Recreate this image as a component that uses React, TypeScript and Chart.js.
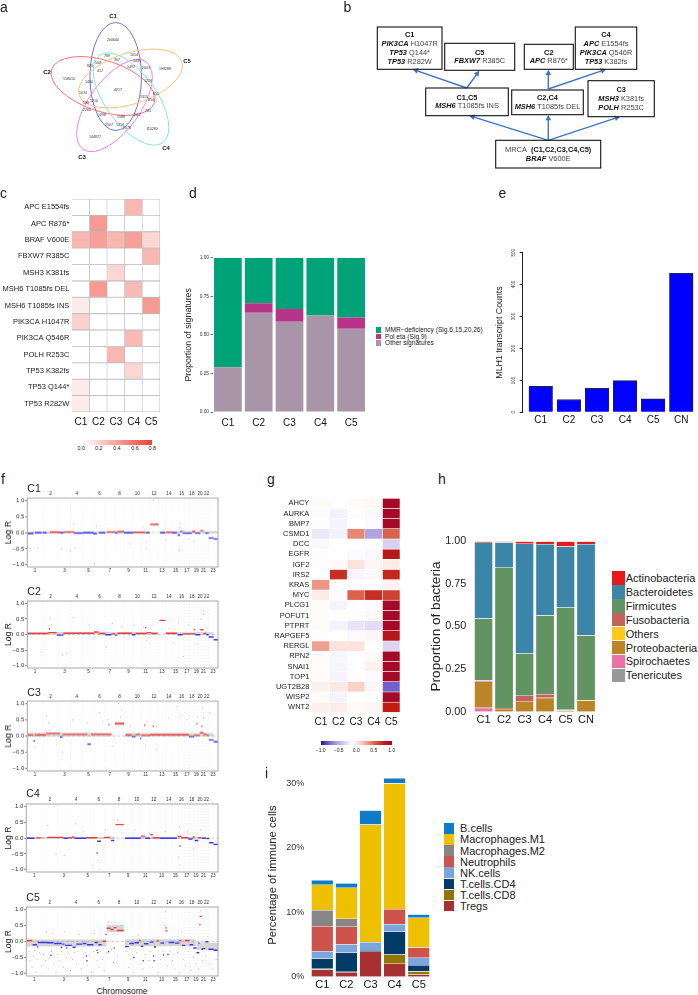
import React, { useEffect, useRef } from "react";
import { Chart, registerables } from "chart.js";

Chart.register(...registerables);

const FONT = '"Liberation Sans", Arial, sans-serif';
Chart.defaults.font.family = FONT;
Chart.defaults.color = "#222";

/* ---------- data ---------- */
const clusters = ["C1", "C2", "C3", "C4", "C5"];
const clustersCN = ["C1", "C2", "C3", "C4", "C5", "CN"];

// a: Venn
const vennNames = ["C1", "C2", "C3", "C4", "C5"];
const vennColors = ["#6f6ff2", "#ff6f7a", "#f280f2", "#84e8d8", "#f9c383"];
const vennCounts = ["200640", "158010", "144877", "110280", "198288", "789", "1054", "367", "1435", "508", "820", "417", "1492", "2603", "1400", "1220", "4217", "1070", "851", "1315", "1210", "854", "598", "2260", "781", "1298", "1588", "1112", "2507", "1318", "2078"];

// b: clonal tree text
const treeText = [
  { title: "C1", lines: [["PIK3CA", " H1047R"], ["TP53", " Q144*"], ["TP53", " R282W"]] },
  { title: "C5", lines: [["FBXW7", " R385C"]] },
  { title: "C2", lines: [["APC", " R876*"]] },
  { title: "C4", lines: [["APC", " E1554fs"], ["PIK3CA", " Q546R"], ["TP53", " K382fs"]] },
  { title: "C1,C5", lines: [["MSH6", " T1085fs INS"]] },
  { title: "C2,C4", lines: [["MSH6", " T1085fs DEL"]] },
  { title: "C3", lines: [["MSH3", " K381fs"], ["POLH", " R253C"]] },
  { title: "", lines: [["BRAF", " V600E"]] },
];

// c: mutation heat map
const mutations = ["APC E1554fs", "APC R876*", "BRAF V600E", "FBXW7 R385C", "MSH3 K381fs", "MSH6 T1085fs DEL", "MSH6 T1085fs INS", "PIK3CA H1047R", "PIK3CA Q546R", "POLH R253C", "TP53 K382fs", "TP53 Q144*", "TP53 R282W"];
const vafC1 = [0, 0, 0.3, 0, 0, 0, 0.08, 0.2, 0, 0, 0, 0.08, 0.08];
const vafC2 = [0, 0.42, 0.4, 0, 0, 0.42, 0, 0, 0, 0, 0, 0, 0];
const vafC3 = [0, 0, 0.3, 0, 0.17, 0, 0, 0, 0, 0.3, 0, 0, 0];
const vafC4 = [0.3, 0, 0.4, 0, 0, 0.28, 0, 0, 0.28, 0, 0.17, 0, 0];
const vafC5 = [0, 0, 0.17, 0.3, 0, 0, 0.42, 0, 0, 0, 0, 0, 0];

// d: signatures
const sigOther = [0.29, 0.644, 0.585, 0.626, 0.54];
const sigPolEta = [0, 0.06, 0.082, 0, 0.073];
const sigMMR = [0.71, 0.296, 0.333, 0.374, 0.387];

// e: MLH1
const mlh1Counts = [81, 40, 75, 99, 42, 435];

// f: copy number. Segments are [start Mb, end Mb, log R]
const chrLengths = [249, 243, 198, 191, 181, 171, 159, 146, 141, 135, 135, 133, 115, 107, 102, 90, 81, 78, 59, 63, 48, 51, 155];
const segC1 = [[0, 96, -0.03], [122, 228, -0.01], [245, 308, -0.01], [361, 467, 0.015], [467, 520, 0.01], [520, 573, -0.01], [573, 743, 0.02], [743, 892, -0.02], [892, 1051, -0.01], [1051, 1104, -0.04], [1141, 1237, -0.01], [1263, 1396, 0.02], [1396, 1433, -0.01], [1433, 1539, 0.03], [1539, 1688, -0.01], [1688, 1874, 0.01], [1884, 1945, -0.01], [1953, 2086, 0.25], [2112, 2192, -0.01], [2208, 2298, 0.01], [2298, 2378, -0.01], [2389, 2431, -0.08], [2431, 2468, 0.04], [2468, 2617, -0.02], [2617, 2670, 0.03], [2670, 2749, -0.02], [2749, 2803, 0.06], [2829, 2882, -0.02], [2882, 2962, -0.17], [2962, 3036, -0.2]];
const segC2 = [[0, 334, 0.03], [334, 467, 0.06], [467, 573, -0.02], [573, 1060, 0.04], [1060, 1130, 0.08], [1130, 1240, 0.03], [1240, 1340, -0.01], [1340, 1396, 0.02], [1396, 1433, -0.02], [1433, 1660, 0.04], [1660, 1720, -0.01], [1720, 1900, 0.03], [1900, 1970, 0.06], [1970, 2070, 0.03], [2100, 2192, 0.45], [2200, 2380, 0.04], [2390, 2470, -0.01], [2470, 2670, 0.02], [2670, 2750, -0.01], [2750, 2800, 0.15], [2800, 2845, 0.03], [2845, 2882, -0.01], [2882, 2962, -0.08], [2962, 3036, -0.17]];
const segC3 = [[0, 96, 0.03], [96, 122, -0.15], [122, 300, 0.03], [300, 520, 0.08], [520, 560, -0.03], [560, 955, 0.05], [955, 1010, -0.25], [1010, 1340, 0.05], [1392, 1538, 0.38], [1560, 1660, 0.03], [1660, 1720, -0.02], [1720, 1790, 0.05], [1790, 1810, -0.07], [1810, 1950, 0.02], [1950, 2570, 0.04], [2570, 2650, -0.02], [2650, 2740, 0.02], [2740, 2800, 0.1], [2800, 2850, 0.05], [2850, 2885, 0.02], [2885, 2962, -0.12], [2962, 3036, -0.18]];
const segC4 = [[0, 130, -0.01], [160, 230, 0.005], [330, 590, 0.02], [590, 660, -0.01], [660, 720, 0.01], [720, 760, 0.03], [760, 950, -0.01], [950, 1120, 0.01], [1120, 1180, -0.1], [1230, 1330, 0.02], [1340, 1390, -0.08], [1410, 1540, 0.42], [1560, 1810, -0.01], [1810, 1880, 0.06], [1880, 1960, -0.01], [1960, 2000, 0.1], [2000, 2110, 0.01], [2110, 2380, -0.01], [2390, 2450, 0.05], [2450, 2560, 0.01], [2560, 2630, -0.03], [2630, 2660, 0.03], [2660, 2720, -0.08], [2720, 2770, 0.01], [2780, 2840, -0.01], [2850, 2890, -0.02], [2890, 2960, -0.15], [2960, 3036, -0.2]];
const segC5 = [[0, 90, 0.03], [100, 170, -0.1], [180, 330, -0.03], [330, 430, -0.04], [440, 560, -0.06], [570, 600, -0.08], [610, 720, -0.12], [730, 780, -0.18], [790, 880, -0.08], [890, 950, -0.06], [960, 1060, -0.1], [1080, 1130, -0.03], [1140, 1190, -0.1], [1210, 1260, 0.01], [1270, 1330, 0.41], [1330, 1380, 0.37], [1380, 1425, 0.43], [1430, 1540, 0.34], [1560, 1620, -0.16], [1630, 1700, -0.06], [1710, 1780, -0.04], [1780, 1810, 0.03], [1810, 1850, -0.15], [1860, 1930, -0.07], [1950, 2010, -0.02], [2020, 2050, -0.17], [2060, 2100, 0.02], [2120, 2180, -0.05], [2200, 2235, 0.33], [2250, 2340, -0.03], [2350, 2420, -0.05], [2420, 2450, 0.03], [2460, 2510, -0.12], [2510, 2580, 0.03], [2580, 2640, -0.1], [2640, 2690, -0.2], [2690, 2735, -0.35], [2740, 2775, 0.78], [2775, 2830, -0.22], [2830, 2880, -0.01], [2880, 2960, -0.24], [2960, 3036, -0.27]];

const bandC1 = [[0, 1940, 0], [2110, 3036, 0.01]];
const bandC2 = [[0, 2080, 0.04], [2200, 2960, 0.03]];
const bandC3 = [[0, 1340, 0.05], [1392, 1538, 0.38], [1560, 2960, 0.04]];
const bandC4 = [[0, 1400, 0], [1560, 2900, 0]];
const bandC5 = [[0, 1265, -0.05], [1270, 1540, 0.4], [1560, 2680, -0.04], [2690, 3036, -0.15]];

const noiseC1 = [[50, -0.5], [160, -0.47], [540, -0.52], [690, -0.55], [730, 0.25], [760, -0.48], [1070, -0.95], [1060, -1.0], [1840, 0.15], [1900, -0.3], [1890, -0.5], [2000, 1.0], [2050, 0.3], [2420, -0.55], [2440, 0.3], [2570, -0.2], [2420, 0.15], [1100, 0.2], [1280, 0.12], [1630, -0.35], [2210, -0.25], [2650, -0.25]];
const noiseC2 = [[220, -0.55], [360, 0.5], [380, 0.3], [560, -0.65], [620, -0.6], [730, 0.55], [990, 0.3], [1350, 0.35], [1500, 0.25], [1250, -0.4], [1850, 0.25], [1900, -0.2], [1700, 0.3], [2000, 0.3], [2400, 0.4], [2480, -0.7], [2800, 0.65], [2760, 0.5], [2700, -0.3], [2250, 0.2], [2330, -0.25], [2560, 0.3]];
const noiseC3 = [[120, -0.35], [300, 0.62], [340, 0.4], [420, 0.3], [460, -0.25], [560, -0.5], [720, 0.5], [950, 0.4], [1150, 0.72], [1200, 0.45], [1280, 0.5], [1450, 1.0], [1500, 0.8], [1480, 0.6], [1350, -0.3], [1640, 0.3], [1880, -0.3], [1900, 0.45], [2050, 0.3], [2240, 0.55], [2380, 0.9], [2440, 0.65], [2540, 0.5], [2700, 0.6], [2790, 0.85], [2800, 0.55], [2900, 0.72], [2050, -0.4]];
const noiseC4 = [[340, 0.4], [600, -0.55], [780, 0.45], [1040, -0.85], [1150, -1.0], [1140, -0.7], [1250, 0.25], [1440, 0.55], [1720, 0.25], [1950, 0.15], [2420, 0.35], [2410, -0.6], [2430, -0.85], [2550, 0.2], [2640, -0.35], [2760, 0.25], [2200, 0.2], [900, 0.2], [470, -0.5]];
const noiseC5 = [[40, -0.3], [60, -0.6], [90, -0.8], [110, -0.45], [130, -0.28], [150, -0.95], [180, -0.55], [210, -0.35], [240, -0.75], [270, -0.4], [300, -0.6], [320, 0.3], [345, -0.85], [370, -0.5], [400, -0.3], [420, 0.25], [440, -0.7], [470, -0.95], [500, -0.4], [530, -0.6], [560, -0.3], [590, -0.8], [610, 0.3], [640, -0.5], [670, -0.35], [700, -0.9], [730, -0.55], [760, -0.35], [790, -0.7], [820, -0.3], [840, 0.22], [870, -0.85], [900, -0.5], [930, -0.35], [960, -0.75], [1000, -0.42], [1030, -0.95], [1060, -0.3], [1080, 0.25], [1120, -0.6], [1150, -0.8], [1170, -0.3], [1200, -0.55], [1230, -0.9], [1260, -0.35], [1300, 0.6], [1350, 0.58], [1400, 0.6], [1450, 0.55], [1510, 0.5], [1350, -0.25], [1380, -0.65], [1440, -0.45], [1590, -0.3], [1620, -0.8], [1650, -0.55], [1700, -0.95], [1740, -0.35], [1770, 0.2], [1800, -0.7], [1850, -0.85], [1880, -0.4], [1930, -0.6], [1970, -0.3], [2000, -0.8], [2040, -0.45], [2080, -0.95], [2120, -0.55], [2160, -0.3], [2190, 0.5], [2205, 0.92], [2230, -0.75], [2270, -0.3], [2310, -0.6], [2350, -0.85], [2390, -0.35], [2420, -0.95], [2450, 0.3], [2480, -0.55], [2520, -0.75], [2560, -0.3], [2600, -0.9], [2640, -0.5], [2680, -0.7], [2720, -0.85], [2745, 0.55], [2760, 0.95], [2790, -0.6], [2830, -0.45], [2870, 0.15], [2900, -0.7], [2950, -0.85], [3000, -0.55]];

const redDotsC3 = [[1297, 0.35], [1867, 0.33], [2000, 0.3], [2696, 0.38], [2776, 0.3]];
const blueDotsC4 = [[1120, -0.47], [2430, -0.25]];
const redDotsC2 = [[350, 0.18], [1880, 0.22], [2660, 0.15]];
const blueDotsC5 = [[180, -0.17], [390, -0.43], [560, -0.18], [640, -0.2], [950, -0.45], [960, -0.6], [1120, -0.27], [1130, -0.35], [1300, -0.32], [1390, -0.2], [1700, -0.5], [1850, -0.6], [2010, -0.45], [2020, -0.6], [2030, -0.17], [2170, -0.42], [2240, -0.4], [2730, -0.05], [2780, -0.25]];
const redDotsC5 = [[1260, 0.22], [2745, 0.52], [2210, 0.42]];

// g: expression heat map
const genes = ["AHCY", "AURKA", "BMP7", "CSMD1", "DCC", "EGFR", "IGF2", "IRS2", "KRAS", "MYC", "PLCG1", "POFUT1", "PTPRT", "RAPGEF5", "RERGL", "RPN2", "SNAI1", "TOP1", "UGT2B28", "WISP2", "WNT2"];
const exprC1 = [0.03, -0.02, -0.01, -0.1, -0.03, -0.01, -0.01, 0, 0.5, 0.1, 0.02, 0.02, 0.02, -0.01, 0.45, 0.02, 0.02, 0.02, 0.08, 0.02, 0.08];
const exprC2 = [0, -0.06, -0.05, -0.06, 0.01, 0, 0.03, 0.85, 0.01, 0.02, -0.05, 0, -0.05, 0, 0.15, -0.04, -0.04, -0.05, 0.12, -0.05, 0.1];
const exprC3 = [0.02, -0.01, 0, 0.55, 0, -0.02, 0.15, -0.04, 0.01, 0.7, 0.01, 0.01, -0.12, -0.02, 0.15, 0.01, 0.01, 0.01, 0.25, 0, 0.03];
const exprC4 = [0.04, -0.03, -0.02, -0.4, 0, -0.03, 0.05, -0.03, 0, 0.85, -0.02, 0.04, -0.15, 0.05, 0, 0.03, 0.08, -0.02, 0.05, -0.01, 0.05];
const exprC5 = [1, 1, 1, 0.7, -0.2, 0.93, 0.1, 0.87, 0.07, 0.8, 1, 1, 1, 0.93, -0.18, 1, 1, 1, -0.65, 1, 0.9];

// h: bacteria
const bacteriaNames = ["Actinobacteria", "Bacteroidetes", "Firmicutes", "Fusobacteria", "Others", "Proteobacteria", "Spirochaetes", "Tenericutes"];
const bacteriaColors = ["#e41a1c", "#3a85a8", "#629363", "#c4625d", "#ffc81d", "#bb8428", "#e871a8", "#999999"];
const actinobacteria = [0.008, 0.006, 0.014, 0.016, 0.031, 0.016];
const bacteroidetes = [0.444, 0.145, 0.644, 0.418, 0.357, 0.536];
const firmicutes = [0.364, 0.827, 0.248, 0.462, 0.6, 0.38];
const fusobacteria = [0.008, 0.006, 0.035, 0.022, 0.004, 0.001];
const bacOthers = [0, 0, 0, 0, 0, 0];
const proteobacteria = [0.153, 0.016, 0.059, 0.082, 0.008, 0.067];
const spirochaetes = [0.023, 0, 0, 0, 0, 0];
const tenericutes = [0, 0, 0, 0, 0, 0];

// i: immune cells (%)
const immuneNames = ["B.cells", "Macrophages.M1", "Macrophages.M2", "Neutrophils", "NK.cells", "T.cells.CD4", "T.cells.CD8", "Tregs"];
const immuneColors = ["#0d7cc8", "#efc000", "#868686", "#cd534c", "#7aa6dc", "#003c67", "#8f7700", "#a73030"];
const bCells = [0.73, 0.7, 2.2, 0.8, 0.52];
const macM1 = [3.93, 4.8, 18.22, 19.5, 4.6];
const macM2 = [2.48, 1.24, 0, 0, 0];
const neutrophils = [3.88, 2.76, 0, 2.33, 1.6];
const nkCells = [1.14, 1.23, 1.24, 1.19, 1.14];
const cd4 = [1.6, 2.99, 0.26, 3.52, 0.98];
const cd8 = [0.1, 0.06, 0, 1.44, 0.47];
const tregs = [1.14, 0.72, 3.88, 2.02, 0.36];

/* ---------- helpers ---------- */
type Box = { l: number; t: number; r: number; b: number };
type Region = { x: number; y: number; w: number; h: number };

const lerp = (a: number[], b: number[], t: number) => a.map((v, i) => Math.round(v + (b[i] - v) * t));
const rgb = (c: number[]) => `rgb(${c[0]},${c[1]},${c[2]})`;
const stops = (table: [number, number[]][], v: number) => {
  for (let i = 1; i < table.length; i++) {
    if (v <= table[i][0]) return rgb(lerp(table[i - 1][1], table[i][1], (v - table[i - 1][0]) / (table[i][0] - table[i - 1][0])));
  }
  return rgb(table[table.length - 1][1]);
};
const vafColor = (v: number) => stops([[0, [255, 255, 255]], [0.8, [240, 62, 50]]], v);
const exprTable: [number, number[]][] = [[-1, [26, 26, 160]], [-0.65, [112, 98, 200]], [-0.4, [176, 163, 224]], [-0.2, [216, 208, 240]], [0, [255, 255, 255]], [0.25, [250, 210, 198]], [0.5, [238, 148, 128]], [0.75, [214, 85, 63]], [0.9, [192, 28, 20]], [1, [165, 10, 40]]];
const exprColor = (v: number) => stops(exprTable, v);
const noGrid = { display: false, drawTicks: false };

const options = (r: Region, p: Box | null, scales: any, extra: any = {}) => ({
  responsive: false,
  animation: false,
  devicePixelRatio: 1,
  events: [],
  layout: { padding: p ? { left: 0, bottom: 0, top: p.t - r.y, right: r.x + r.w - p.r } : 0 },
  plugins: { legend: { display: false }, tooltip: { enabled: false }, ...extra },
  scales,
});
const noPad = (s: any) => { s.paddingLeft = 0; s.paddingRight = 0; s.paddingTop = 0; s.paddingBottom = 0; };
const fixW = (w: number) => (s: any) => { s.width = w; noPad(s); };
const fixH = (h: number) => (s: any) => { s.height = h; noPad(s); };
const setTicks = (vals: number[]) => (s: any) => { s.ticks = vals.map((value) => ({ value })); };
const yTitle = (text: string, size: number, x: number, r: Region) => ({
  display: true, text, font: { size }, color: "#222",
  padding: { top: x - r.x - size * 0.6, bottom: 0 },
});

const frame = {
  id: "frame",
  afterDatasetsDraw(chart: any) {
    const { left, top, width, height } = chart.chartArea;
    const c = chart.ctx;
    c.save(); c.strokeStyle = "#a8a8a8"; c.lineWidth = 1; c.strokeRect(left, top, width, height); c.restore();
  },
};

/* ---------- panel geometry ---------- */
const rA: Region = { x: 0, y: 0, w: 240, h: 195 };
const rB: Region = { x: 345, y: 0, w: 353, h: 190 };
const rC: Region = { x: 0, y: 195, w: 170, h: 240 };
const pC: Box = { l: 72, t: 199, r: 160, b: 412 };
const rD: Region = { x: 180, y: 240, w: 190, h: 190 };
const pD: Box = { l: 212.5, t: 257.7, r: 366.5, b: 412 };
const rE: Region = { x: 485, y: 240, w: 213, h: 190 };
const pE: Box = { l: 522.7, t: 252.7, r: 695.3, b: 412.3 };
const rG: Region = { x: 270, y: 490, w: 135, h: 240 };
const pG: Box = { l: 312, t: 498.2, r: 400, b: 712.4 };
const rH: Region = { x: 425, y: 530, w: 175, h: 200 };
const pH: Box = { l: 473.3, t: 541.3, r: 596.3, b: 711.7 };
const rI: Region = { x: 260, y: 770, w: 175, h: 224 };
const pI: Box = { l: 310.2, t: 773.6, r: 430.8, b: 976.7 };

const cnPanels = [
  { name: "C1", l: 27.3, t: 498.3, b: 567.3, nameY: 488, seg: segC1, band: bandC1, bandW: 2, noise: noiseC1, red: [] as number[][], blue: [] as number[][] },
  { name: "C2", l: 27.3, t: 600.7, b: 668.3, nameY: 590.7, seg: segC2, band: bandC2, bandW: 2.5, noise: noiseC2, red: redDotsC2, blue: [] as number[][] },
  { name: "C3", l: 27.3, t: 701, b: 770.7, nameY: 691.7, seg: segC3, band: bandC3, bandW: 3.5, noise: noiseC3, red: redDotsC3, blue: [] as number[][] },
  { name: "C4", l: 26.3, t: 803.7, b: 871.7, nameY: 793, seg: segC4, band: bandC4, bandW: 2, noise: noiseC4, red: [] as number[][], blue: blueDotsC4 },
  { name: "C5", l: 26.3, t: 906.7, b: 975.7, nameY: 896.7, seg: segC5, band: bandC5, bandW: 7, noise: noiseC5, red: redDotsC5, blue: blueDotsC5 },
];

// Venn layout, in the panel's own units
const vennEllipses = [
  { cx: 115.7, cy: 76.5, a: 54, b: 25.8, rot: 90 },
  { cx: 103, cy: 86, a: 54, b: 25.5, rot: 18 },
  { cx: 114.5, cy: 105.5, a: 54, b: 25.5, rot: -54 },
  { cx: 131, cy: 99, a: 54, b: 25.5, rot: 54 },
  { cx: 130.5, cy: 78.5, a: 54, b: 25.5, rot: -18 },
];
const vennNameAt = [[113, 16.7], [47, 72], [82, 157], [166, 148.5], [187, 61.5]];
const vennCountAt = [[113, 40], [69, 79], [95, 137], [152, 129], [165, 69], [107, 56], [134, 55], [117, 60], [137, 61], [98, 63], [90, 66], [100, 71], [131, 67], [146, 68], [89, 82], [148, 81], [118, 90], [83, 93], [156, 94], [144, 97], [94, 101], [151, 100], [86, 103], [87, 110], [148, 111], [102, 115], [121, 117], [137, 115], [109, 125], [120, 125], [127, 128]];

// Tree layout, in page units
const treeBoxes = [
  [377.3, 27, 442, 69.3], [444.7, 43.3, 514.7, 70.3], [524.3, 44.3, 573.3, 69.3], [575.3, 27, 636.7, 69.3],
  [425.7, 88, 508.3, 115.7], [511.7, 90, 583.3, 114.7], [588, 80.7, 654.3, 116.7], [495.7, 140.3, 600.7, 168],
];
const treeArrows = [
  [548.3, 140.3, 469.3, 115.7], [548.3, 140.3, 548.3, 115], [548.3, 140.3, 620, 116.7],
  [466.7, 88, 412.7, 69.3], [466.7, 88, 479.3, 70.8], [548.3, 89, 548.3, 69.8], [548.3, 89, 606, 69.3],
];

const vennPlugin = {
  id: "vennPlugin",
  afterDatasetsDraw(chart: any) {
    const c = chart.ctx;
    const sx = chart.scales.x, sy = chart.scales.y;
    c.save();
    vennEllipses.forEach((e, i) => {
      c.beginPath();
      c.strokeStyle = vennColors[i];
      c.lineWidth = 1;
      c.ellipse(sx.getPixelForValue(e.cx), sy.getPixelForValue(e.cy), sx.getPixelForValue(e.a) - sx.getPixelForValue(0), sy.getPixelForValue(e.b) - sy.getPixelForValue(0), (e.rot * Math.PI) / 180, 0, Math.PI * 2);
      c.stroke();
    });
    c.textAlign = "center"; c.textBaseline = "middle";
    c.font = `3.6px ${FONT}`; c.fillStyle = "#333";
    chart.getDatasetMeta(0).data.forEach((pt: any, i: number) => c.fillText(vennCounts[i], pt.x, pt.y));
    c.font = `bold 6px ${FONT}`; c.fillStyle = "#111";
    chart.getDatasetMeta(1).data.forEach((pt: any, i: number) => c.fillText(vennNames[i], pt.x, pt.y));
    c.restore();
  },
};

const treePlugin = {
  id: "treePlugin",
  afterDatasetsDraw(chart: any) {
    const c = chart.ctx;
    const sx = chart.scales.x, sy = chart.scales.y;
    const X = (v: number) => sx.getPixelForValue(v), Y = (v: number) => sy.getPixelForValue(v);
    c.save();
    treeArrows.forEach(([x0, y0, x1, y1]) => {
      const ax = X(x0), ay = Y(y0), bx = X(x1), by = Y(y1);
      const ang = Math.atan2(by - ay, bx - ax);
      c.strokeStyle = "#3f74c8"; c.fillStyle = "#3f74c8"; c.lineWidth = 1.4;
      c.beginPath(); c.moveTo(ax, ay); c.lineTo(bx - 4 * Math.cos(ang), by - 4 * Math.sin(ang)); c.stroke();
      c.beginPath(); c.moveTo(bx, by);
      c.lineTo(bx - 6 * Math.cos(ang - 0.5), by - 6 * Math.sin(ang - 0.5));
      c.lineTo(bx - 6 * Math.cos(ang + 0.5), by - 6 * Math.sin(ang + 0.5));
      c.closePath(); c.fill();
    });
    c.strokeStyle = "#111"; c.lineWidth = 1.1;
    c.textBaseline = "middle"; c.textAlign = "left";
    const rich = (parts: [string, string][], cx: number, y: number) => {
      let w = 0;
      parts.forEach(([t, f]) => { c.font = f; w += c.measureText(t).width; });
      let x = cx - w / 2;
      parts.forEach(([t, f]) => { c.font = f; c.fillStyle = f.startsWith("7") ? "#444" : "#111"; c.fillText(t, x, y); x += c.measureText(t).width; });
    };
    const N = `7.4px ${FONT}`, B = `bold 7.4px ${FONT}`, BI = `italic bold 7.4px ${FONT}`;
    treeBoxes.forEach(([l, t, r, b], i) => {
      c.strokeRect(X(l), Y(t), X(r) - X(l), Y(b) - Y(t));
      const d = treeText[i];
      const cx = X((l + r) / 2);
      const rows: [string, string][][] = [];
      if (d.title) rows.push([[d.title, B]]);
      else rows.push([["MRCA  ", N], ["(C1,C2,C3,C4,C5)", B]]);
      d.lines.forEach(([g, rest]) => rows.push([[g, BI], [rest, N]]));
      const step = 8.8;
      const start = Y((t + b) / 2) - ((rows.length - 1) * step) / 2 + 0.2;
      rows.forEach((row, k) => rich(row, cx, start + k * step));
    });
    c.restore();
  },
};

/* ---------- chart builders ---------- */
const hiddenScale = (max: number, min = 0, reverse = false) => ({ type: "linear", display: false, min, max, reverse });

const heatConfig = (r: Region, p: Box, rows: string[], cols: number[][], color: (v: number) => string, border: string, bw: number) => ({
  type: "bar",
  data: {
    labels: rows,
    datasets: cols.map((col, i) => ({
      label: clusters[i],
      data: col.map(() => 1),
      backgroundColor: col.map(color),
      borderColor: border,
      borderWidth: bw,
      barPercentage: 1,
      categoryPercentage: 1,
    })),
  },
  options: {
    ...options(r, p, {
      x: {
        type: "linear", stacked: true, min: 0, max: 5, position: "bottom",
        grid: noGrid, border: { display: false },
        afterBuildTicks: setTicks([0.5, 1.5, 2.5, 3.5, 4.5]),
        afterFit: fixH(r.y + r.h - p.b),
        ticks: { autoSkip: false, maxRotation: 0, padding: 4.2, font: { size: 10 }, color: "#111", callback: (_: any, i: number) => clusters[i] },
      },
      y: {
        type: "category", stacked: true,
        grid: noGrid, border: { display: false },
        afterFit: fixW(p.l - r.x),
        ticks: { autoSkip: false, padding: 2.7, font: { size: 7.5 }, color: "#222" },
      },
    }),
    indexAxis: "y",
  },
});

const stackedConfig = (r: Region, p: Box, labels: string[], series: { label: string; data: number[]; color: string }[], cat: number, y: any, xPad: number, xSize: number, bw: number) => ({
  type: "bar",
  data: {
    labels,
    datasets: series.map((s) => ({ label: s.label, data: s.data, backgroundColor: s.color, borderWidth: bw, borderColor: "rgba(255,255,255,0.7)", barPercentage: 1, categoryPercentage: cat })),
  },
  options: options(r, p, {
    x: {
      stacked: true, grid: noGrid, border: { display: false },
      afterFit: fixH(r.y + r.h - p.b),
      ticks: { padding: xPad, font: { size: xSize }, color: "#111", maxRotation: 0 },
    },
    y: { stacked: true, border: { display: false }, afterFit: fixW(p.l - r.x), ...y },
  }),
});

const flatSeg = (segs: number[][]) => segs.flatMap(([s, e, v]) => [{ x: s, y: v }, { x: e, y: v }, { x: e, y: null }]);
const pts = (a: number[][]) => a.map(([x, y]) => ({ x, y }));

const buildCN = (panel: (typeof cnPanels)[number], r: Region, p: Box) => {
  const starts: number[] = [];
  let acc = 0;
  chrLengths.forEach((l) => { starts.push(acc); acc += l; });
  const total = acc;
  const mids = chrLengths.map((l, i) => starts[i] + l / 2);
  const odd = mids.filter((_, i) => i % 2 === 0);
  const even = mids.filter((_, i) => i % 2 === 1);
  const chrName = (v: number) => String(mids.indexOf(v) + 1);
  const boundaries = starts.slice(1).flatMap((s) => [{ x: s, y: -1.07 }, { x: s, y: 1.07 }, { x: s, y: null }]);
  return {
    type: "scatter",
    plugins: [frame],
    data: {
      datasets: [
        { label: "gain", data: flatSeg(panel.seg.filter((s) => s[2] >= 0)), showLine: true, borderColor: "#f53c3c", borderWidth: 1.4, pointRadius: 0, tension: 0 },
        { label: "loss", data: flatSeg(panel.seg.filter((s) => s[2] < 0)), showLine: true, borderColor: "#3838f5", borderWidth: 1.4, pointRadius: 0, tension: 0 },
        { label: "gain probes", data: pts(panel.red), pointRadius: 0.8, pointBorderWidth: 0, backgroundColor: "#f53c3c" },
        { label: "loss probes", data: pts(panel.blue), pointRadius: 0.8, pointBorderWidth: 0, backgroundColor: "#3838f5" },
        { label: "probes", data: pts(panel.noise), pointRadius: 0.5, pointBorderWidth: 0, backgroundColor: "#a0a0a0" },
        { label: "probe band", data: flatSeg(panel.band), showLine: true, borderColor: "rgba(165,165,165,0.45)", borderWidth: panel.bandW, pointRadius: 0 },
        { label: "baseline", data: [{ x: 0, y: 0 }, { x: total, y: 0 }], showLine: true, borderColor: "#bbbbbb", borderWidth: 0.7, borderDash: [3, 2], pointRadius: 0 },
        { label: "chromosomes", data: boundaries, showLine: true, borderColor: "#dadada", borderWidth: 0.5, borderDash: [1, 2], pointRadius: 0 },
      ],
    },
    options: {
      ...options(r, p, {
        x: {
          type: "linear", position: "bottom", min: 0, max: total,
          grid: noGrid, border: { display: false },
          afterBuildTicks: setTicks(odd),
          afterFit: fixH(r.y + r.h - p.b),
          ticks: { autoSkip: false, maxRotation: 0, padding: 0.5, font: { size: 4.6 }, color: "#333", callback: (v: number) => chrName(v) },
        },
        xTop: {
          type: "linear", position: "top", min: 0, max: total,
          grid: noGrid, border: { display: false },
          afterBuildTicks: setTicks(even),
          afterFit: fixH(p.t - r.y),
          ticks: { autoSkip: false, maxRotation: 0, padding: 1.5, font: { size: 4.6 }, color: "#333", callback: (v: number) => chrName(v) },
        },
        y: {
          min: -1.07, max: 1.07,
          grid: { drawOnChartArea: false, tickLength: 2, color: "#888" }, border: { display: false },
          afterBuildTicks: setTicks([-1, -0.5, 0, 0.5, 1]),
          afterFit: fixW(p.l - r.x),
          title: yTitle("Log R", 8.6, 9, r),
          ticks: { padding: 1, font: { size: 6 }, color: "#333", callback: (v: number) => v.toFixed(1).replace("-", "\u2212") },
        },
      }),
      layout: { padding: { left: 0, bottom: 0, top: 0, right: r.x + r.w - p.r } },
    },
  };
};

/* ---------- static text ---------- */
type Txt = { t: string; x: number; y: number; s: number; a?: "l" | "c" | "r"; c?: string };
const texts: Txt[] = [
  { t: "a", x: 0, y: 7, s: 14, a: "l" }, { t: "b", x: 343.5, y: 7, s: 14, a: "l" },
  { t: "c", x: 0, y: 192.5, s: 14, a: "l" }, { t: "d", x: 189, y: 192.5, s: 14, a: "l" },
  { t: "e", x: 498.5, y: 192.5, s: 14, a: "l" }, { t: "f", x: 1, y: 479, s: 14, a: "l" },
  { t: "g", x: 267, y: 479, s: 14, a: "l" }, { t: "h", x: 438, y: 479, s: 14, a: "l" },
  { t: "i", x: 265, y: 773, s: 14, a: "l" },
  { t: "Chromosome", x: 122, y: 991, s: 8.5, a: "c" },
];
const vafTicks = [["0.0", 81.3], ["0.2", 98.7], ["0.4", 116.7], ["0.6", 135], ["0.8", 152.3]];
const exprTicks = [["\u22121.0", 320.7], ["\u22120.5", 338.7], ["0.0", 356.3], ["0.5", 373.7], ["1.0", 391.7]];
const sigLegend = [["MMR\u2212deficiency (Sig.6,15,20,26)", "#00a278"], ["Pol eta (Sig.9)", "#b8338a"], ["Other signatures", "#a896a8"]];

const Label = ({ t, x, y, s, a = "l", c = "#222" }: Txt) => (
  <div style={{ position: "absolute", left: x, top: y, fontSize: s, color: c, lineHeight: 1, whiteSpace: "nowrap", fontFamily: FONT, transform: `translate(${a === "l" ? "0" : a === "c" ? "-50%" : "-100%"},-50%)` }}>{t}</div>
);
const Swatch = ({ x, y, w, h, c }: { x: number; y: number; w: number; h: number; c: string }) => (
  <div style={{ position: "absolute", left: x, top: y - h / 2, width: w, height: h, background: c }} />
);

const regions: Region[] = [rA, rB, rC, rD, rE, rG, rH, rI];
const cnRegions: Region[] = cnPanels.map((p) => ({ x: 0, y: p.t - 8, w: 224, h: p.b - p.t + 15 }));
const allRegions = [...regions, ...cnRegions];

export default function App() {
  const refs = useRef<(HTMLCanvasElement | null)[]>([]);
  useEffect(() => {
    const configs: any[] = [
      {
        type: "scatter",
        plugins: [vennPlugin],
        data: { datasets: [
          { data: pts(vennCountAt), pointRadius: 0 },
          { data: pts(vennNameAt), pointRadius: 0 },
        ] },
        options: options(rA, null, { x: hiddenScale(rA.w), y: hiddenScale(rA.h, 0, true) }),
      },
      {
        type: "scatter",
        plugins: [treePlugin],
        data: { datasets: [] },
        options: options(rB, null, { x: hiddenScale(rB.x + rB.w, rB.x), y: hiddenScale(rB.h, 0, true) }),
      },
      heatConfig(rC, pC, mutations, [vafC1, vafC2, vafC3, vafC4, vafC5], vafColor, "#bdbdbd", 0.8),
      stackedConfig(rD, pD, clusters, [
        { label: "Other signatures", data: sigOther, color: "#a896a8" },
        { label: "Pol eta (Sig.9)", data: sigPolEta, color: "#b8338a" },
        { label: "MMR\u2212deficiency (Sig.6,15,20,26)", data: sigMMR, color: "#00a278" },
      ], 0.9, {
        min: 0, max: 1,
        grid: { drawOnChartArea: false, tickLength: 2, color: "#777" },
        afterBuildTicks: setTicks([0, 0.25, 0.5, 0.75, 1]),
        title: yTitle("Proportion of signatures", 8.8, 189, rD),
        ticks: { padding: 1.5, font: { size: 4.8 }, color: "#333", callback: (v: number) => v.toFixed(2) },
      }, 5, 10, 0),
      {
        type: "bar",
        data: { datasets: [{
          label: "MLH1 transcript Counts",
          data: mlh1Counts.map((y, i) => ({ x: i, y })),
          backgroundColor: "#0000ff", borderColor: "#20204a", borderWidth: 1, barThickness: 23.6,
        }] },
        options: options(rE, pE, {
          x: {
            type: "linear", offset: false, min: -0.642, max: 5.5,
            grid: { ...noGrid, offset: false }, border: { display: false },
            afterBuildTicks: setTicks([0, 1, 2, 3, 4, 5]),
            afterFit: fixH(rE.y + rE.h - pE.b),
            ticks: { autoSkip: false, maxRotation: 0, padding: 2.4, font: { size: 10 }, color: "#111", callback: (_: any, i: number) => clustersCN[i] },
          },
          y: {
            min: 0, max: 500,
            grid: { drawOnChartArea: false, tickLength: 3, color: "#222" },
            border: { display: true, color: "#222", width: 1 },
            afterBuildTicks: setTicks([0, 100, 200, 300, 400, 500]),
            afterFit: fixW(pE.l - rE.x),
            title: yTitle("MLH1 transcript Counts", 8.8, 500, rE),
            ticks: { minRotation: 90, maxRotation: 90, crossAlign: "center", padding: 2.2, font: { size: 4.5 }, color: "#333" },
          },
        }),
      },
      heatConfig(rG, pG, genes, [exprC1, exprC2, exprC3, exprC4, exprC5], exprColor, "#ffffff", 0.6),
      stackedConfig(rH, pH, clustersCN, [
        { label: bacteriaNames[7], data: tenericutes, color: bacteriaColors[7] },
        { label: bacteriaNames[6], data: spirochaetes, color: bacteriaColors[6] },
        { label: bacteriaNames[5], data: proteobacteria, color: bacteriaColors[5] },
        { label: bacteriaNames[4], data: bacOthers, color: bacteriaColors[4] },
        { label: bacteriaNames[3], data: fusobacteria, color: bacteriaColors[3] },
        { label: bacteriaNames[2], data: firmicutes, color: bacteriaColors[2] },
        { label: bacteriaNames[1], data: bacteroidetes, color: bacteriaColors[1] },
        { label: bacteriaNames[0], data: actinobacteria, color: bacteriaColors[0] },
      ], 0.905, {
        min: 0, max: 1,
        grid: noGrid,
        afterBuildTicks: setTicks([0, 0.25, 0.5, 0.75, 1]),
        title: yTitle("Proportion of bacteria", 13.6, 436, rH),
        ticks: { padding: 7, font: { size: 10.8 }, color: "#222", callback: (v: number) => v.toFixed(2) },
      }, 1.7, 11, 0.4),
      stackedConfig(rI, pI, clusters, [
        { label: immuneNames[7], data: tregs, color: immuneColors[7] },
        { label: immuneNames[6], data: cd8, color: immuneColors[6] },
        { label: immuneNames[5], data: cd4, color: immuneColors[5] },
        { label: immuneNames[4], data: nkCells, color: immuneColors[4] },
        { label: immuneNames[3], data: neutrophils, color: immuneColors[3] },
        { label: immuneNames[2], data: macM2, color: immuneColors[2] },
        { label: immuneNames[1], data: macM1, color: immuneColors[1] },
        { label: immuneNames[0], data: bCells, color: immuneColors[0] },
      ], 0.915, {
        min: 0, max: 31.5,
        grid: noGrid,
        afterBuildTicks: setTicks([0, 10, 20, 30]),
        title: yTitle("Percentage of immune cells", 11.3, 272.7, rI),
        ticks: { padding: 6, font: { size: 9 }, color: "#333", callback: (v: number) => `${v}%` },
      }, 1.7, 11, 0.4),
      ...cnPanels.map((panel, i) => buildCN(panel, cnRegions[i], { l: panel.l, t: panel.t, r: 218, b: panel.b })),
    ];
    const charts = configs.map((cfg, i) => new Chart(refs.current[i] as HTMLCanvasElement, cfg));
    return () => charts.forEach((c) => c.destroy());
  }, []);

  return (
    <div style={{ position: "absolute", left: 0, top: 0, width: 698, height: 995, overflow: "hidden", background: "#fff", fontFamily: FONT }}>
      {allRegions.map((r, i) => (
        <canvas key={i} ref={(el) => { refs.current[i] = el; }} width={r.w} height={r.h} style={{ position: "absolute", left: r.x, top: r.y, width: r.w, height: r.h }} />
      ))}
      {texts.map((t, i) => <Label key={i} {...t} />)}
      {cnPanels.map((p) => <Label key={p.name} t={p.name} x={p.l} y={p.nameY} s={10.5} />)}
      <div style={{ position: "absolute", left: 83, top: 440, width: 69, height: 4.5, background: `linear-gradient(to right, #ffffff, ${vafColor(0.8)})` }} />
      {vafTicks.map(([t, x]) => <Label key={t as string} t={t as string} x={x as number} y={449} s={5.4} a="c" />)}
      <div style={{ position: "absolute", left: 321, top: 740.7, width: 71, height: 4.5, background: `linear-gradient(to right, ${[-1, -0.65, -0.4, -0.2, 0, 0.25, 0.5, 0.75, 0.9, 1].map(exprColor).join(",")})` }} />
      {exprTicks.map(([t, x]) => <Label key={t as string} t={t as string} x={x as number} y={749.5} s={5} a="c" />)}
      {sigLegend.map(([t, c], i) => (
        <React.Fragment key={t}>
          <Swatch x={375.7} y={330 + i * 6.5} w={5.5} h={5.8} c={c} />
          <Label t={t} x={385} y={330.3 + i * 6.5} s={6.6} />
        </React.Fragment>
      ))}
      {bacteriaNames.map((t, i) => (
        <React.Fragment key={t}>
          <Swatch x={612.3} y={578 + i * 13.9} w={12.4} h={13.5} c={bacteriaColors[i]} />
          <Label t={t} x={625.7} y={578 + i * 13.9} s={11} />
        </React.Fragment>
      ))}
      {immuneNames.map((t, i) => (
        <React.Fragment key={t}>
          <Swatch x={443.7} y={828.3 + i * 11.1} w={10} h={10.6} c={immuneColors[i]} />
          <Label t={t} x={460} y={828.3 + i * 11.1} s={11} />
        </React.Fragment>
      ))}
    </div>
  );
}
